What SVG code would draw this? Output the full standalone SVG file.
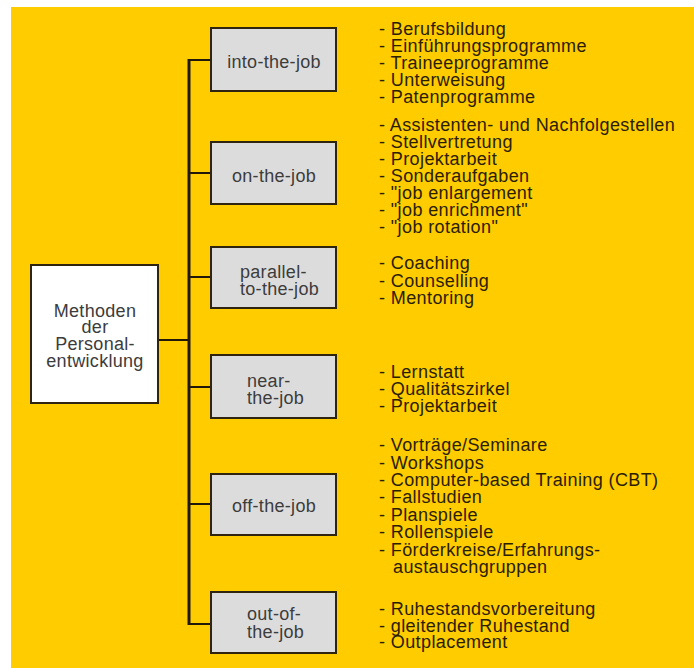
<svg xmlns="http://www.w3.org/2000/svg" width="694" height="668" viewBox="0 0 694 668">
<style>
.bg{fill:#FFCC00}
.box{fill:#DCDCDC;stroke:#2E2410;stroke-width:2}
.main{fill:#FFFFFF;stroke:#2E2410;stroke-width:2}
.lbl{font-family:"Liberation Sans",Arial,sans-serif;font-size:18px;letter-spacing:0.3px;fill:#3C3C3C}
.mid{text-anchor:middle}
.lst{font-family:"Liberation Sans",Arial,sans-serif;font-size:18px;letter-spacing:0.4px;fill:#2A2000}
.con{stroke:#22180A;fill:none}
</style>
<rect x="0" y="0" width="694" height="668" fill="#FFFFFF"/>
<rect class="bg" x="11" y="7" width="683" height="661"/>
<g id="connectors">
<line class="con" x1="189" y1="59" x2="189" y2="625" stroke-width="3"/>
<line class="con" x1="158" y1="340" x2="189" y2="340" stroke-width="2"/>
<line class="con" x1="189" y1="60" x2="211" y2="60" stroke-width="2"/>
<line class="con" x1="189" y1="173" x2="211" y2="173" stroke-width="2"/>
<line class="con" x1="189" y1="277" x2="211" y2="277" stroke-width="2"/>
<line class="con" x1="189" y1="387" x2="211" y2="387" stroke-width="2"/>
<line class="con" x1="189" y1="504" x2="211" y2="504" stroke-width="2"/>
<line class="con" x1="189" y1="624" x2="211" y2="624" stroke-width="2"/>
</g>
<g id="root">
<rect class="main" x="31" y="265" width="127" height="138"/>
<text class="lbl mid" x="95" y="317">Methoden</text>
<text class="lbl mid" x="95" y="333">der</text>
<text class="lbl mid" x="95" y="350">Personal-</text>
<text class="lbl mid" x="95" y="367">entwicklung</text>
</g>
<g id="into">
<rect class="box" x="211" y="28" width="125" height="63"/>
<text class="lbl mid" x="274" y="68">into-the-job</text>
</g>
<g id="on">
<rect class="box" x="211" y="142" width="125" height="62"/>
<text class="lbl mid" x="274" y="182">on-the-job</text>
</g>
<g id="parallel">
<rect class="box" x="211" y="247" width="125" height="61"/>
<text class="lbl" x="240" y="278">parallel-</text>
<text class="lbl" x="240" y="295">to-the-job</text>
</g>
<g id="near">
<rect class="box" x="211" y="355" width="125" height="63"/>
<text class="lbl" x="247" y="387">near-</text>
<text class="lbl" x="247" y="404">the-job</text>
</g>
<g id="off">
<rect class="box" x="211" y="474" width="125" height="61"/>
<text class="lbl mid" x="274" y="512">off-the-job</text>
</g>
<g id="out">
<rect class="box" x="211" y="592" width="125" height="61"/>
<text class="lbl" x="247" y="620">out-of-</text>
<text class="lbl" x="247" y="638">the-job</text>
</g>
<g id="list-into">
<text class="lst" x="379" y="35">- Berufsbildung</text>
<text class="lst" x="379" y="52">- Einführungsprogramme</text>
<text class="lst" x="379" y="69">- Traineeprogramme</text>
<text class="lst" x="379" y="86">- Unterweisung</text>
<text class="lst" x="379" y="103">- Patenprogramme</text>
</g>
<g id="list-on">
<text class="lst" x="379" y="131">- Assistenten- und Nachfolgestellen</text>
<text class="lst" x="379" y="148">- Stellvertretung</text>
<text class="lst" x="379" y="165">- Projektarbeit</text>
<text class="lst" x="379" y="182">- Sonderaufgaben</text>
<text class="lst" x="379" y="199">- "job enlargement</text>
<text class="lst" x="379" y="216">- "job enrichment"</text>
<text class="lst" x="379" y="233">- "job rotation"</text>
</g>
<g id="list-parallel">
<text class="lst" x="379" y="269">- Coaching</text>
<text class="lst" x="379" y="287">- Counselling</text>
<text class="lst" x="379" y="304">- Mentoring</text>
</g>
<g id="list-near">
<text class="lst" x="379" y="378">- Lernstatt</text>
<text class="lst" x="379" y="395">- Qualitätszirkel</text>
<text class="lst" x="379" y="412">- Projektarbeit</text>
</g>
<g id="list-off">
<text class="lst" x="379" y="451">- Vorträge/Seminare</text>
<text class="lst" x="379" y="469">- Workshops</text>
<text class="lst" x="379" y="486">- Computer-based Training (CBT)</text>
<text class="lst" x="379" y="503">- Fallstudien</text>
<text class="lst" x="379" y="521">- Planspiele</text>
<text class="lst" x="379" y="538">- Rollenspiele</text>
<text class="lst" x="379" y="556">- Förderkreise/Erfahrungs-</text>
<text class="lst" x="393" y="573">austauschgruppen</text>
</g>
<g id="list-out">
<text class="lst" x="379" y="615">- Ruhestandsvorbereitung</text>
<text class="lst" x="379" y="632">- gleitender Ruhestand</text>
<text class="lst" x="379" y="648">- Outplacement</text>
</g>
</svg>
